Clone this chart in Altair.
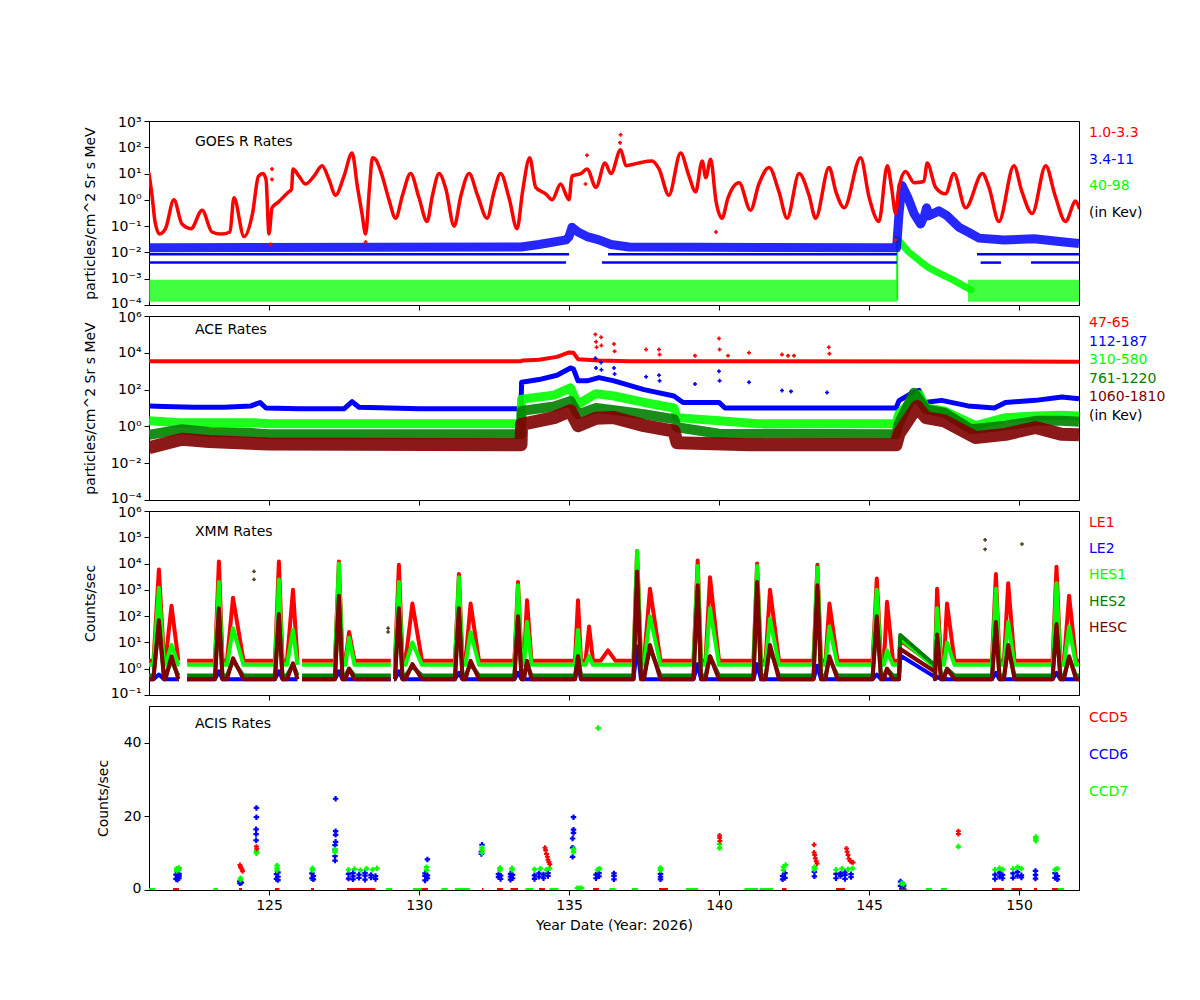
import altair as alt
import pandas as pd

FONT = "DejaVu Sans"
RED, BLUE, LIME, GREEN, MAROON = "#ff0000", "#0000ff", "#00ff00", "#008000", "#800000"
DARK = "#4d3b1f"

W, H = 930, 184
day_ticks = [125, 130, 135, 140, 145, 150]

# ---------------- GOES (day, value) ----------------
goes_p1 = [(121.0, 10), (121.1, 1.5), (121.2, 0.15), (121.35, 0.05), (121.55, 0.08), (121.83, 1.0),
           (122.1, 0.12), (122.4, 0.08), (122.77, 0.4), (123.1, 0.06), (123.4, 0.05), (123.7, 0.06),
           (123.83, 1.2), (124.17, 0.04), (124.45, 0.3), (124.65, 8), (124.8, 10), (124.9, 6),
           (125.0, 0.05), (125.1, 0.5), (125.3, 0.8), (125.65, 2), (125.75, 2.5), (125.8, 15),
           (126.0, 8), (126.22, 4), (126.5, 8), (126.77, 20), (127.0, 6), (127.22, 1.5), (127.5, 8),
           (127.77, 60), (127.95, 3), (128.1, 0.3), (128.22, 0.05), (128.35, 3), (128.45, 40),
           (128.55, 35), (128.75, 10), (129.0, 1), (129.22, 0.2), (129.45, 1.5), (129.72, 10),
           (130.0, 1.2), (130.27, 0.15), (130.45, 1.5), (130.67, 10), (130.9, 2.5), (131.17, 0.1),
           (131.4, 1.5), (131.67, 10), (131.95, 1.5), (132.27, 0.2), (132.5, 2), (132.72, 10),
           (133.0, 1.2), (133.27, 0.08), (133.45, 2), (133.69, 40), (133.89, 3), (134.22, 1.7),
           (134.44, 1.0), (134.72, 4), (135.0, 1.0), (135.1, 8), (135.4, 10), (135.6, 15),
           (135.9, 3), (136.2, 25), (136.4, 10), (136.72, 80), (136.9, 20), (137.3, 25),
           (137.77, 30), (138.0, 15), (138.33, 1.5), (138.72, 60), (139.0, 8), (139.22, 2),
           (139.44, 30), (139.56, 7), (139.72, 35), (139.9, 0.9), (140.1, 0.2), (140.3, 1.2),
           (140.67, 4.5), (141.05, 0.4), (141.33, 4), (141.67, 17), (142.0, 2), (142.27, 0.2),
           (142.67, 10), (143.0, 1.5), (143.22, 0.2), (143.67, 17), (143.9, 2), (144.17, 0.5),
           (144.72, 40), (145.0, 1.3), (145.33, 0.15), (145.61, 20), (145.75, 3), (145.89, 0.3),
           (146.0, 3), (146.22, 12), (146.5, 4.5), (146.83, 5), (146.94, 25), (147.22, 3),
           (147.55, 1.7), (147.83, 10), (148.22, 0.5), (148.78, 10), (149.0, 3), (149.33, 0.15),
           (149.83, 20), (150.1, 2), (150.44, 0.3), (150.89, 20), (151.2, 1.5), (151.55, 0.15),
           (151.89, 0.9), (152.0, 0.5)]
goes_p1_extra = [(125.1, 15), (125.1, 6), (125.05, 0.02), (128.22, 0.025), (135.6, 50), (135.55, 4),
                 (136.72, 300), (136.7, 150), (139.9, 0.06), (145.88, 0.03)]
goes_p2_band = [(121.0, 0.015), (133.4, 0.016), (134.0, 0.02), (134.9, 0.03), (135.0, 0.04),
                (135.1, 0.09), (135.3, 0.06), (135.6, 0.04), (136.0, 0.03), (136.4, 0.02),
                (137.0, 0.016), (145.92, 0.015), (146.0, 0.3), (146.1, 3.5), (146.3, 1.2),
                (146.5, 0.3), (146.72, 0.12), (146.85, 0.25), (146.92, 0.5), (147.0, 0.25),
                (147.33, 0.38), (147.6, 0.25), (148.0, 0.09), (148.3, 0.06), (148.67, 0.035),
                (149.5, 0.03), (150.5, 0.033), (151.5, 0.025), (152.0, 0.022)]
goes_p2_levels = [0.0041, 0.0085]
goes_p2_level_spans = [
    [(121.0, 134.9), (136.1, 145.93), (148.72, 149.4), (150.4, 152.0)],
    [(121.0, 135.0), (136.3, 145.93), (148.6, 152.0)],
]
goes_p3_base_val = 3.5e-4
goes_p3_base_spans = [(121.0, 145.93), (148.3, 152.0)]
goes_p3_decay = [(145.94, 0.032), (146.0, 0.028), (146.3, 0.011), (146.75, 0.0042), (147.0, 0.0026),
                 (147.3, 0.0017), (147.8, 9e-4), (148.2, 5e-4), (148.4, 3.8e-4)]
goes_ticks = [1e-4, 1e-3, 1e-2, 1e-1, 1, 10, 100, 1000]
goes_tick_labels = ["10⁻⁴", "10⁻³", "10⁻²", "10⁻¹", "10⁰", "10¹", "10²", "10³"]
goes_legend = ["1.0-3.3", "3.4-11", "40-98", "(in Kev)"]

# ---------------- ACE ----------------
ace_1 = [(121.0, 3500), (133.4, 3500), (133.45, 3800), (134.0, 4200), (134.6, 6000), (135.0, 10500),
         (135.15, 10000), (135.3, 4500), (136.0, 3800), (137.0, 3500), (152.0, 3300)]
ace_2 = [(121.0, 13), (121.5, 12), (122.5, 11), (123.5, 11), (124.4, 13), (124.7, 20), (124.9, 10),
         (126.0, 9), (127.5, 9), (127.77, 22), (128.0, 11), (130.0, 9), (133.4, 9), (133.42, 250),
         (134.0, 350), (134.6, 600), (135.05, 1500), (135.15, 1300), (135.3, 300), (135.6, 300),
         (136.0, 450), (136.5, 300), (137.5, 100), (138.5, 45), (138.8, 20), (140.0, 20),
         (140.2, 10), (145.9, 10), (146.0, 25), (146.4, 60), (146.67, 90), (146.85, 20),
         (147.42, 26), (148.3, 13), (149.18, 10), (149.55, 20), (150.55, 26), (151.43, 40),
         (152.0, 32)]
ace_3 = [(121.0, 2.0), (122.0, 1.6), (124.5, 1.6), (125.0, 1.4), (133.4, 1.4), (133.42, 30),
         (134.5, 50), (135.05, 125), (135.3, 16), (135.9, 60), (136.5, 45), (137.5, 20),
         (138.5, 10), (138.6, 3), (140.0, 2), (141.3, 1.4), (145.9, 1.4), (146.0, 5), (146.67, 55),
         (146.9, 10), (147.5, 7), (148.55, 1.1), (149.55, 3), (150.55, 3.7), (151.43, 4),
         (152.0, 3.7)]
ace_4 = [(121.0, 0.35), (122.1, 0.7), (123.0, 0.5), (124.3, 0.45), (125.0, 0.37), (133.4, 0.37),
         (133.42, 7), (134.5, 12), (135.05, 24), (135.3, 4.5), (135.9, 10), (136.7, 7),
         (137.5, 4.6), (138.5, 2.5), (138.6, 0.9), (140.0, 0.4), (145.9, 0.37), (146.0, 1.5),
         (146.5, 68), (146.9, 8.5), (147.5, 5.6), (148.4, 0.7), (149.55, 1.1), (150.55, 2),
         (151.43, 2), (152.0, 1.8)]
ace_5 = [(121.0, 0.07), (122.1, 0.2), (123.0, 0.15), (125.0, 0.11), (133.4, 0.1), (133.42, 1.3),
         (134.5, 3), (135.05, 7), (135.3, 1.1), (135.9, 2.8), (136.5, 3), (137.5, 1.1),
         (138.5, 0.56), (138.6, 0.13), (141.0, 0.1), (145.9, 0.1), (146.0, 0.4), (146.6, 12),
         (146.9, 3), (147.5, 2), (148.55, 0.25), (149.55, 0.37), (150.55, 0.87), (151.43, 0.37),
         (152.0, 0.35)]
ace_1_spikes = [(135.88, 100000), (135.9, 40000), (135.92, 20000), (136.07, 70000), (136.08, 25000),
                (136.5, 30000), (136.52, 12000), (137.57, 15000), (138.0, 15000), (138.02, 8000),
                (139.2, 7000), (140.0, 60000), (140.02, 15000), (140.3, 7000), (141.0, 10000),
                (142.1, 8000), (142.3, 7000), (142.5, 7000), (143.66, 20000), (143.68, 9000)]
ace_2_spikes = [(135.88, 5000), (135.9, 1500), (136.07, 3000), (136.08, 1200), (136.5, 1500),
                (136.52, 700), (137.57, 500), (138.0, 600), (138.02, 300), (139.2, 200),
                (140.0, 1000), (140.02, 300), (141.0, 250), (142.1, 90), (142.4, 80), (143.6, 70)]
ace_ticks = [1e-4, 1e-2, 1, 100, 1e4, 1e6]
ace_tick_labels = ["10⁻⁴", "10⁻²", "10⁰", "10²", "10⁴", "10⁶"]
ace_legend = ["47-65", "112-187", "310-580", "761-1220", "1060-1810", "(in Kev)"]

# ---------------- XMM ----------------
xmm_start = [121.15, 121.55, 123.2, 123.6, 125.2, 125.6, 127.2, 127.55, 129.2, 129.55, 131.2, 131.55,
             133.18, 133.5, 135.2, 135.55, 136.05, 137.15, 137.5, 139.15, 139.55, 141.15, 141.55,
             143.15, 143.55, 145.12, 145.5, 147.2, 147.5, 149.1, 149.5, 151.12, 151.5]
xmm_peak_day = [121.33, 121.75, 123.33, 123.8, 125.33, 125.8, 127.33, 127.67, 129.33, 129.78, 131.33,
                131.72, 133.3, 133.6, 135.3, 135.67, 136.3, 137.27, 137.7, 139.29, 139.7, 141.27,
                141.7, 143.28, 143.68, 145.26, 145.6, 147.27, 147.6, 149.23, 149.64, 151.25, 151.67]
xmm_end = [121.5, 121.98, 123.45, 124.15, 125.45, 125.95, 127.45, 127.85, 129.45, 130.1, 131.45, 132.0,
           133.42, 133.75, 135.4, 135.8, 136.55, 137.4, 138.05, 139.4, 140.0, 141.4, 142.0, 143.4,
           143.95, 145.4, 145.8, 147.4, 147.85, 149.35, 149.85, 151.38, 151.9]
le1_peaks = [6000, 250, 12000, 500, 12000, 1000, 12000, 25, 9000, 300, 4000, 300, 2000, 400, 400, 40, 5,
             30000, 1100, 13000, 3000, 10000, 1000, 9000, 300, 2700, 350, 1100, 300, 4000, 1800, 7500, 600]
le2_peaks = [0.6, 0.4, 0.8, 0.4, 0.8, 0.4, 0.8, 0.4, 0.8, 0.4, 0.7, 0.4, 0.7, 0.4, 1.5, 0.4, 0.4,
             7, 0.4, 1.5, 0.4, 1.5, 0.4, 1.3, 0.4, 0.6, 0.4, 0.5, 0.4, 0.7, 0.4, 0.7, 0.4]
hes1_peaks = [1200, 8, 2000, 35, 2500, 30, 10000, 15, 2000, 10, 3000, 25, 1500, 60, 30, 3, 1.4,
              30000, 100, 8000, 200, 8000, 80, 7000, 40, 1000, 5, 200, 10, 1100, 60, 1800, 40]
hes2_peaks = [50, 2, 150, 2, 100, 1.5, 400, 1, 150, 1.2, 150, 1.5, 80, 1.5, 3, 0.55, 0.55,
              3000, 6, 1000, 3, 1500, 6, 1000, 2.5, 80, 1, 15, 1, 50, 6, 40, 2.5]
hesc_peaks = [70, 3, 200, 2.5, 120, 1.6, 600, 1, 200, 1.5, 200, 2, 100, 2, 3, 0.4, 0.4,
              5000, 8, 1500, 3, 2000, 8, 1500, 3, 100, 1, 20, 1, 60, 8, 50, 3]
xmm_base = {"LE1": 2.0, "LE2": 0.4, "HES1": 1.4, "HES2": 0.55, "HESC": 0.4}
decay_days = [146.0, 146.04, 147.18]
le1_decay = [2.0, 12, 1.3]
le2_decay = [0.4, 3.2, 0.5]
hes1_decay = [1.4, 14, 1.2]
hes2_decay = [0.55, 19, 1.4]
hesc_decay = [0.4, 5.6, 0.8]
xmm_gaps = [(122.0, 122.27), (125.95, 126.1), (129.06, 129.17)]
xmm_odd = [(124.5, 5000), (124.5, 2500), (128.97, 35), (128.97, 25), (148.87, 80000),
           (148.87, 35000), (150.1, 55000)]
xmm_ticks = [0.1, 1, 10, 100, 1000, 1e4, 1e5, 1e6]
xmm_tick_labels = ["10⁻¹", "10⁰", "10¹", "10²", "10³", "10⁴", "10⁵", "10⁶"]
xmm_legend = ["LE1", "LE2", "HES1", "HES2", "HESC"]

# ---------------- ACIS ----------------
ccd5_pts = [(124.03, 6.8), (124.05, 6.3), (124.07, 6.0), (124.1, 5.6), (124.12, 5.1), (124.58, 11.8),
            (124.59, 11.2), (134.2, 11.5), (134.22, 10.8), (134.25, 9.8), (134.28, 9.0), (134.3, 8.2),
            (134.33, 7.6), (134.36, 7.0), (140.02, 14.8), (140.02, 14.2), (140.03, 13.3),
            (143.17, 12.3), (143.17, 10.2), (143.19, 9.5), (143.21, 8.6), (143.24, 7.8),
            (143.27, 7.2), (144.25, 11.3), (144.27, 10.4), (144.3, 9.5), (144.33, 8.5),
            (144.37, 7.9), (144.42, 7.6), (144.47, 7.5), (147.98, 16.0), (147.98, 15.2)]
ccd6_pts = [(121.9, 3.0), (121.9, 4.2), (121.95, 3.5), (121.95, 4.8), (121.95, 2.8), (122.0, 3.8),
            (122.0, 4.4), (122.0, 3.2), (124.03, 1.8), (124.03, 2.4), (124.08, 2.0), (124.57, 13.5),
            (124.57, 15.2), (124.57, 16.5), (124.58, 19.8), (124.58, 22.3), (125.25, 3.0),
            (125.25, 4.3), (125.3, 3.6), (125.3, 4.8), (125.3, 2.7), (126.43, 3.2), (126.43, 4.5),
            (126.48, 3.8), (126.48, 2.9), (127.2, 8.0), (127.2, 9.2), (127.2, 11.0), (127.2, 12.2),
            (127.22, 13.1), (127.22, 15.0), (127.22, 16.0), (127.22, 24.8), (127.65, 3.1),
            (127.65, 4.4), (127.8, 3.7), (127.8, 4.6), (127.8, 2.9), (128.0, 3.3), (128.0, 4.2),
            (128.2, 3.9), (128.2, 2.8), (128.2, 4.6), (128.4, 3.4), (128.4, 4.1), (128.55, 3.8),
            (128.55, 3.0), (130.2, 2.6), (130.2, 3.8), (130.2, 4.5), (130.28, 3.2), (130.28, 4.0),
            (130.28, 8.3), (132.08, 9.8), (132.08, 10.4), (132.1, 12.3), (132.65, 3.5),
            (132.65, 4.3), (132.72, 3.0), (132.72, 3.9), (133.05, 2.8), (133.05, 3.6),
            (133.05, 4.4), (133.12, 3.2), (133.12, 4.1), (133.85, 3.0), (133.85, 4.0), (134.0, 3.6),
            (134.0, 4.5), (134.15, 3.2), (134.15, 4.2), (134.3, 3.8), (134.3, 4.6), (135.12, 9.0),
            (135.12, 11.5), (135.12, 14.0), (135.15, 15.5), (135.15, 16.4), (135.15, 19.8),
            (135.9, 3.2), (135.9, 4.2), (136.0, 3.7), (136.0, 4.6), (136.5, 2.9), (136.5, 3.8),
            (136.5, 4.5), (138.05, 2.9), (138.05, 3.6), (138.05, 4.4), (142.12, 2.9), (142.12, 3.8),
            (142.2, 3.3), (142.2, 4.6), (143.18, 3.7), (143.18, 4.9), (143.9, 3.2), (143.9, 4.4),
            (144.05, 3.8), (144.05, 4.5), (144.2, 3.0), (144.2, 4.1), (144.2, 4.8), (144.4, 3.5),
            (144.4, 4.3), (146.05, 1.1), (146.05, 2.3), (146.15, 1.0), (146.15, 1.4), (149.2, 3.0),
            (149.2, 4.2), (149.35, 3.6), (149.35, 4.7), (149.45, 3.2), (149.45, 4.1), (149.8, 3.3),
            (149.8, 4.5), (149.95, 3.8), (149.95, 4.9), (150.08, 3.4), (150.08, 4.0), (150.55, 3.1),
            (150.55, 4.1), (150.55, 5.2), (151.2, 3.3), (151.2, 4.6), (151.28, 3.8), (151.28, 2.9)]
ccd7_pts = [(121.92, 5.2), (121.92, 5.8), (122.0, 5.5), (122.0, 6.0), (124.05, 2.8), (124.05, 3.2),
            (124.58, 10.0), (124.58, 10.6), (125.27, 5.3), (125.27, 5.9), (125.27, 6.6),
            (126.45, 5.4), (126.45, 5.9), (127.2, 10.3), (127.2, 11.0), (127.65, 5.5),
            (127.85, 5.7), (128.05, 5.4), (128.25, 5.8), (128.45, 5.5), (128.6, 5.9), (130.25, 5.4),
            (130.25, 6.2), (132.1, 10.1), (132.1, 10.8), (132.1, 11.5), (132.7, 5.4), (132.7, 6.0),
            (133.1, 5.5), (133.1, 5.9), (133.85, 5.6), (134.05, 5.8), (134.25, 5.5), (134.35, 5.9),
            (135.15, 10.3), (135.15, 11.1), (135.28, 0.5), (135.35, 0.4), (135.42, 0.5),
            (135.97, 44.0), (135.95, 5.5), (136.02, 5.8), (138.05, 5.4), (138.05, 6.0),
            (140.02, 11.4), (140.02, 12.5), (142.15, 5.4), (142.15, 6.3), (142.22, 6.8),
            (143.18, 5.6), (143.18, 6.2), (143.9, 5.5), (144.1, 5.8), (144.3, 5.6), (144.45, 5.9),
            (146.08, 1.8), (146.15, 1.6), (147.98, 11.8), (149.2, 5.5), (149.35, 5.9), (149.45, 5.6),
            (149.8, 5.7), (149.95, 6.2), (150.08, 5.8), (150.56, 13.4), (150.56, 14.0),
            (150.56, 14.4), (151.2, 5.5), (151.28, 5.8)]
ccd5_zero = [(121.8, 122.0), (124.0, 124.1), (125.2, 125.35), (126.4, 126.5), (127.6, 128.55),
             (130.1, 130.3), (132.1, 132.15), (132.6, 132.8), (133.05, 133.3), (134.0, 134.2),
             (135.8, 136.0), (138.0, 138.3), (142.1, 142.25), (143.9, 144.2), (146.0, 146.25),
             (149.1, 149.5), (149.75, 150.1), (150.5, 150.6), (151.1, 151.3)]
ccd7_zero = [(121.0, 121.2), (123.15, 123.3), (128.9, 129.1), (129.8, 130.1), (130.75, 130.95),
             (131.2, 131.7), (133.55, 133.8), (134.35, 134.65), (136.35, 136.55), (137.1, 137.3),
             (138.9, 139.3), (140.85, 141.3), (141.35, 141.8), (146.9, 147.1), (147.4, 147.6),
             (151.3, 151.5)]
acis_ticks = [0, 10, 20, 30, 40, 50]
acis_legend = ["CCD5", "CCD6", "CCD7"]


XSCALE = alt.Scale(domain=[121, 152], nice=False, zero=False)


def xenc(field="day", bottom=False):
    if bottom:
        return alt.X(f"{field}:Q", scale=XSCALE, title="Year Date (Year: 2026)",
                     axis=alt.Axis(values=day_ticks, format="d", titlePadding=6))
    return alt.X(f"{field}:Q", scale=XSCALE, title=None, axis=alt.Axis(values=day_ticks, labels=False))


def ylog(lo, hi, ticks, labels, title):
    expr = " : ".join(f"abs(datum.value / {t} - 1) < 0.001 ? '{l}'" for t, l in zip(ticks, labels)) + " : ''"
    return alt.Y("val:Q", scale=alt.Scale(type="log", domain=[lo, hi], nice=False), title=title,
                 axis=alt.Axis(values=ticks, labelExpr=expr, titlePadding=13,
                               labelFlush=True, labelFlushOffset=5.5))


def pts(pairs, seg=0):
    return pd.DataFrame(pairs, columns=["day", "val"]).assign(seg=seg)


def spans(span_list, value):
    rows = []
    for i, (a, b) in enumerate(span_list):
        rows += [(a, value, i), (b, value, i)]
    return pd.DataFrame(rows, columns=["day", "val", "seg"])


def line(df, color, width, X, Y, opacity=1.0, interp="linear", cap="round"):
    return alt.Chart(df).mark_line(color=color, strokeWidth=width, opacity=opacity, clip=True,
                                   interpolate=interp, strokeJoin="round", strokeCap=cap).encode(
        x=X, y=Y, detail="seg:N")


def cross(df, color, X, Y, size=16):
    return alt.Chart(df).mark_point(shape="cross", filled=True, size=size, color=color, opacity=1,
                                    clip=True).encode(x=X, y=Y)


def label(text, x, y, color="black"):
    return alt.Chart(pd.DataFrame({"t": [text]})).mark_text(
        align="left", baseline="middle", font=FONT, fontSize=14, color=color).encode(
        x=alt.value(x), y=alt.value(y), text="t:N")


def legend(names, colors, y0, step):
    return [label(n, 940, y0 + i * step, c) for i, (n, c) in enumerate(zip(names, colors))]


# ---- panel 1: GOES
X1 = xenc()
Y1 = ylog(1e-4, 1e3, goes_ticks, goes_tick_labels, "particles/cm^2 Sr s MeV")
goes_layers = [
    line(spans(goes_p3_base_spans, goes_p3_base_val), LIME, 22, X1, Y1, 0.75, cap="butt"),
    line(pts(goes_p3_decay), LIME, 7, X1, Y1, 0.9),
    alt.Chart(pd.DataFrame({"day": [145.94], "lo": [1.5e-4], "val": [0.032]})).mark_rule(
        color=LIME, strokeWidth=2).encode(x=X1, y=Y1, y2="lo:Q"),
    line(spans(goes_p2_level_spans[0], goes_p2_levels[0]), BLUE, 2.5, X1, Y1, cap="butt"),
    line(spans(goes_p2_level_spans[1], goes_p2_levels[1]), BLUE, 2.5, X1, Y1, cap="butt"),
    line(pts(goes_p2_band), BLUE, 9, X1, Y1, 0.85, cap="butt"),
    line(pts(goes_p1), RED, 3.5, X1, Y1, 1.0, "monotone"),
    cross(pts(goes_p1_extra), RED, X1, Y1),
    label("GOES R Rates", 46, 21),
] + legend(goes_legend, [RED, BLUE, LIME, "black"], 12, 26.7)
goes = alt.layer(*goes_layers).properties(width=W, height=H)

# ---- panel 2: ACE
X2 = xenc()
Y2 = ylog(1e-4, 1e6, ace_ticks, ace_tick_labels, "particles/cm^2 Sr s MeV")
ace_layers = [
    line(pts(ace_1), RED, 4, X2, Y2, cap="butt"),
    cross(pts(ace_1_spikes), RED, X2, Y2),
    line(pts(ace_2), BLUE, 5, X2, Y2, cap="butt"),
    cross(pts(ace_2_spikes), BLUE, X2, Y2),
    line(pts(ace_3), LIME, 9, X2, Y2, 0.9, cap="butt"),
    line(pts(ace_4), GREEN, 10, X2, Y2, 0.9, cap="butt"),
    line(pts(ace_5), MAROON, 13, X2, Y2, 0.9, cap="butt"),
    label("ACE Rates", 46, 14),
] + legend(ace_legend, [RED, BLUE, LIME, GREEN, MAROON, "black"], 7, 18.6)
ace = alt.layer(*ace_layers).properties(width=W, height=H)


# ---- panel 3: XMM
def xmm_series(base, peaks, decay):
    rows = [(121.0, base), (152.0, base)]
    for s, p, e, v in zip(xmm_start, xmm_peak_day, xmm_end, peaks):
        rows += [(s, base), (p, max(v, base)), (e, base)]
    rows += list(zip(decay_days, decay))
    for g0, g1 in xmm_gaps:
        rows += [(g0, base), (g1, base)]
    df = pd.DataFrame(rows, columns=["day", "val"]).sort_values("day", kind="stable")
    df["seg"] = [sum(1 for g0, g1 in xmm_gaps if d >= g1) for d in df["day"]]
    return df


X3 = xenc()
Y3 = ylog(0.1, 1e6, xmm_ticks, xmm_tick_labels, "Counts/sec")
xmm_layers = [
    line(xmm_series(xmm_base["LE1"], le1_peaks, le1_decay), RED, 4, X3, Y3, cap="butt"),
    line(xmm_series(xmm_base["LE2"], le2_peaks, le2_decay), BLUE, 4, X3, Y3, cap="butt"),
    line(xmm_series(xmm_base["HES1"], hes1_peaks, hes1_decay), LIME, 4, X3, Y3, cap="butt"),
    line(xmm_series(xmm_base["HES2"], hes2_peaks, hes2_decay), GREEN, 4, X3, Y3, cap="butt"),
    line(xmm_series(xmm_base["HESC"], hesc_peaks, hesc_decay), MAROON, 4, X3, Y3, cap="butt"),
    cross(pts(xmm_odd), DARK, X3, Y3, 14),
    label("XMM Rates", 46, 21),
] + legend(xmm_legend, [RED, BLUE, LIME, GREEN, MAROON], 12, 26.2)
xmm = alt.layer(*xmm_layers).properties(width=W, height=H)

# ---- panel 4: ACIS
X4 = xenc(bottom=True)
Y4 = alt.Y("val:Q", scale=alt.Scale(domain=[0, 50], nice=False), title="Counts/sec",
           axis=alt.Axis(values=acis_ticks, titlePadding=13, labelFlush=True, labelFlushOffset=5.5))


def zero_rules(span_list, color):
    df = pd.DataFrame(span_list, columns=["day", "end"])
    return alt.Chart(df).mark_rule(color=color, strokeWidth=4, clip=True).encode(
        x=X4, x2="end:Q", y=alt.datum(0))


acis_layers = [
    zero_rules(ccd5_zero, RED),
    zero_rules(ccd7_zero, LIME),
    cross(pts(ccd6_pts), BLUE, X4, Y4, 30),
    cross(pts(ccd7_pts), LIME, X4, Y4, 30),
    cross(pts(ccd5_pts), RED, X4, Y4, 24),
    label("ACIS Rates", 46, 18),
] + legend(acis_legend, [RED, BLUE, LIME], 12, 37)
acis = alt.layer(*acis_layers).properties(width=W, height=H)

chart = alt.vconcat(goes, ace, xmm, acis, spacing=11, bounds="flush").properties(
    padding={"left": 74, "top": 107, "right": 10, "bottom": 10}
).configure_view(stroke="black", strokeWidth=1).configure_axis(
    grid=False, domainColor="black", tickColor="black", labelColor="black", titleColor="black",
    labelFont=FONT, titleFont=FONT, labelFontSize=14, titleFontSize=14, titleFontWeight="normal",
    tickSize=5, labelPadding=3
)

chart.save("out.html", embed_options={"renderer": "svg", "actions": False})
